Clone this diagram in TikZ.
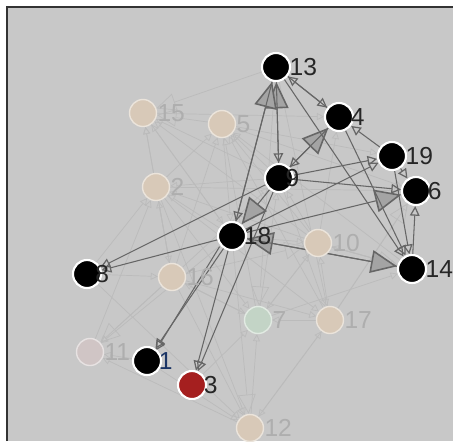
\documentclass[tikz,border=0pt]{standalone}
\usepackage{fontspec}
\setmainfont{Liberation Sans}
\usetikzlibrary{arrows.meta}

\definecolor{bgc}{HTML}{C8C8C8}
\definecolor{fadetan}{HTML}{D8C9B8}
\definecolor{fadegreen}{HTML}{C3D4C6}
\definecolor{fadepink}{HTML}{D0C5C5}
\definecolor{darkred}{HTML}{A51F1F}
\definecolor{edgedark}{HTML}{666666}
\definecolor{edgefaint}{HTML}{BBBBBB}
\definecolor{headfill}{HTML}{A4A4A4}
\definecolor{labfaint}{HTML}{AEAEAE}
\definecolor{labblue}{HTML}{1B3566}

\pgfdeclarelayer{back}
\pgfdeclarelayer{edges}
\pgfsetlayers{back,edges,main}

\begin{document}
\begin{tikzpicture}[x=0.02cm,y=-0.02cm,
    vtx/.style={circle,fill=black,draw=white,line width=1.2pt,minimum size=0.56cm,inner sep=0pt},
    ghost/.style={circle,fill=fadetan,draw=fadetan!50!white,line width=0.8pt,minimum size=0.54cm,inner sep=0pt},
    lab/.style={font=\fontsize{14}{14}\selectfont,text=black!85,inner sep=0pt},
    flab/.style={font=\fontsize{14}{14}\selectfont,text=labfaint,inner sep=0pt},
    dk/.style={draw=edgedark,line width=0.6pt,-{Triangle[open,length=5.5pt,width=5.5pt,line width=0.7pt]}},
    big/.style={draw=edgedark,line width=0.6pt,-{Triangle[length=15pt,width=13pt,fill=headfill,line width=0.9pt]}},
    faint/.style={draw=edgefaint,line width=0.4pt,-{Triangle[open,length=4pt,width=4pt]}},
    fbig/.style={draw=edgefaint,line width=0.4pt,-{Triangle[open,length=11pt,width=10pt]}}]
    \useasboundingbox (0,0) rectangle (453,441);
    \begin{pgfonlayer}{back}
        \fill[bgc] (7,7) rectangle (453,441);
        \draw[black!80,line width=1.1pt] (7,441) -- (7,7) -- (453,7);
    \end{pgfonlayer}

    % faded vertices
    \node[ghost,label={[flab,label distance=0pt]right:15}] (n15) at (143,113) {};
    \node[ghost,label={[flab,label distance=0pt]right:5}] (n5) at (222,124) {};
    \node[ghost,label={[flab,label distance=0pt]right:2}] (n2) at (156,187) {};
    \node[ghost,label={[flab,label distance=0pt]right:10}] (n10) at (318,243) {};
    \node[ghost,label={[flab,label distance=0pt]right:16}] (n16) at (172,277) {};
    \node[ghost,fill=fadegreen,draw=fadegreen!50!white,label={[flab,label distance=0pt]right:7}] (n7) at (258,320) {};
    \node[ghost,label={[flab,label distance=0pt]right:17}] (n17) at (330,320) {};
    \node[ghost,fill=fadepink,draw=fadepink!50!white,label={[flab,label distance=0pt]right:11}] (n11) at (90,352) {};
    \node[ghost,label={[flab,label distance=0pt]right:12}] (n12) at (250,428) {};

    % active vertices
    \node[vtx,label={[lab,label distance=-1pt]right:13}] (n13) at (276,67) {};
    \node[vtx,label={[lab,label distance=-2pt]right:4}] (n4) at (339,117) {};
    \node[vtx,label={[lab,label distance=-1pt]right:19}] (n19) at (392,156) {};
    \node[vtx,label={[lab,label distance=-2pt]right:6}] (n6) at (416,191) {};
    \node[vtx,label={[lab,label distance=-5pt]right:9}] (n9) at (279,178) {};
    \node[vtx,label={[lab,label distance=-2pt]right:18}] (n18) at (232,236) {};
    \node[vtx,label={[lab,label distance=-1pt]right:14}] (n14) at (412,269) {};
    \node[vtx,label={[lab,label distance=-4pt]right:8}] (n8) at (87,274) {};
    \node[vtx,label={[lab,text=labblue,label distance=-2pt]right:1}] (n1) at (147,361) {};
    \node[vtx,fill=darkred,label={[lab,label distance=-2pt]right:3}] (n3) at (192,385) {};

    \begin{pgfonlayer}{edges}
    % background traffic
    \foreach \a/\b in {n2/n15,n16/n15,n9/n15,n18/n15,n10/n15,n2/n5,n9/n5,n10/n5,n14/n5,
        n18/n2,n16/n2,n9/n2,n10/n2,n7/n10,n17/n10,n14/n10,n18/n10,n7/n16,n2/n16,
        n12/n7,n3/n7,n16/n7,n10/n7,n2/n7,n17/n7,n12/n17,n16/n17,n9/n17,n13/n17,
        n2/n17,n8/n16,n1/n11,n16/n11,n18/n11,n12/n11,n17/n12,n16/n12,n1/n12,
        n2/n12,n8/n12,n7/n14,n10/n14,n5/n6,n15/n4,n2/n6,n5/n18,n15/n18,n16/n9,
        n10/n9,n7/n9,n5/n19,n17/n6,n10/n4,n16/n5,n11/n2,n8/n2,n7/n5,n17/n5}
        \draw[faint] (\a) -- (\b);
    \foreach \a/\b in {n13/n15,n5/n15,n16/n11,n13/n7,n18/n12,n10/n14,n16/n10,n17/n6}
        \draw[fbig] (\a) -- (\b);

    % strong links
    \foreach \a/\b in {n9/n13,n18/n13,n9/n4,n9/n18,n14/n18,n18/n14,n18/n6}
        \draw[big] (\a) -- (\b);
    \foreach \a/\b in {n13/n9,n13/n4,n4/n13,n4/n9,n19/n4,n9/n19,n18/n19,n19/n6,
        n14/n6,n9/n6,n18/n8,n9/n8,n9/n3,n13/n14,n4/n14,n19/n14,n13/n18}
        \draw[dk] (\a) -- (\b);
    \draw[dk] ([xshift=-1pt]n18.south west) -- ([xshift=-1pt]n1.north east);
    \draw[dk] (n18) -- (n1);
    \draw[dk] (n18) -- (n3);
    \end{pgfonlayer}
\end{tikzpicture}
\end{document}
